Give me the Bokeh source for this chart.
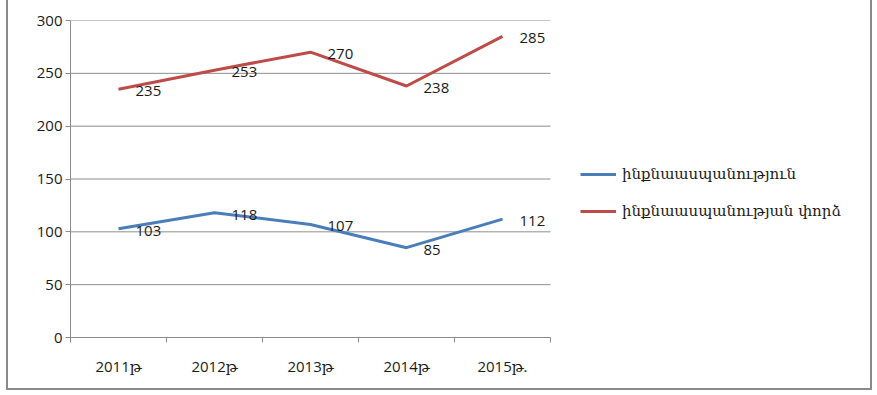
from bokeh.plotting import figure
from bokeh.models import (ColumnDataSource, FixedTicker, Range1d, LabelSet, Legend, LegendItem)
from bokeh.core.properties import value
from bokeh.embed import file_html
from bokeh.resources import INLINE

years = ["2011թ", "2012թ", "2013թ", "2014թ", "2015թ."]
suicide = [103, 118, 107, 85, 112]
attempt = [235, 253, 270, 238, 285]
series_names = ["ինքնաասպանություն", "ինքնաասպանության փորձ"]
y_ticks = [0, 50, 100, 150, 200, 250, 300]

n = len(years)
xpos = [i + 0.5 for i in range(n)]

# layout in px
W, H = 866, 390
left, top, bottom = 62, 20, 53
data_px = 480
frame_w = W - left
x_end = n * frame_w / data_px

src = ColumnDataSource(dict(x=xpos, s=suicide, a=attempt,
                            sl=[str(v) for v in suicide], al=[str(v) for v in attempt]))

p = figure(width=W, height=H, output_backend="svg", toolbar_location=None,
           x_range=Range1d(0, x_end), y_range=Range1d(0, 300),
           min_border_left=left, min_border_right=0, min_border_top=top, min_border_bottom=bottom)
p.styles = {"margin-left": "6px",
            "border-left": "2px solid #8a8a8a", "border-right": "2px solid #8a8a8a",
            "border-bottom": "2px solid #8a8a8a"}
p.outline_line_color = None
p.background_fill_color = "white"
p.border_fill_color = "white"

grid_col = "#8c8c8c"
p.xgrid.grid_line_color = None
p.ygrid.grid_line_color = None

# horizontal gridlines limited to the category area
p.segment(x0=[0] * (len(y_ticks) - 1), x1=[n] * (len(y_ticks) - 1),
          y0=y_ticks[1:], y1=y_ticks[1:], line_color=grid_col, line_width=1)

p.yaxis.ticker = FixedTicker(ticks=y_ticks)
p.yaxis.axis_line_color = grid_col
p.yaxis.major_tick_line_color = grid_col
p.yaxis.major_tick_out = 5
p.yaxis.major_tick_in = 0
p.yaxis.minor_tick_line_color = None
p.yaxis.major_label_standoff = 3
p.yaxis.major_label_text_font = "Open Sans"
p.yaxis.major_label_text_font_size = "15px"
p.yaxis.major_label_text_color = "#1a1a1a"

p.xaxis.bounds = (0, n)
p.xaxis.ticker = FixedTicker(ticks=xpos, minor_ticks=list(range(n + 1)))
p.xaxis.major_label_overrides = {x: y for x, y in zip(xpos, years)}
p.xaxis.axis_line_color = grid_col
p.xaxis.major_tick_line_color = None
p.xaxis.major_tick_out = 0
p.xaxis.minor_tick_line_color = grid_col
p.xaxis.minor_tick_out = 5
p.xaxis.minor_tick_in = 0
p.xaxis.major_label_standoff = 13
p.xaxis.major_label_text_font = "'Open Sans', 'DejaVu Serif'"
p.xaxis.major_label_text_font_size = "15px"
p.xaxis.major_label_text_color = "#1a1a1a"

blue = "#4a7ebb"
red = "#be4b48"
r1 = p.line("x", "s", source=src, line_color=blue, line_width=3)
r2 = p.line("x", "a", source=src, line_color=red, line_width=3)

for col in ["sl", "al"]:
    ycol = "s" if col == "sl" else "a"
    p.add_layout(LabelSet(x="x", y=ycol, text=col, source=src, x_offset=17, y_offset=-2,
                          text_align="left", text_baseline="middle",
                          text_font=value("Open Sans"), text_font_size=value("15px"),
                          text_color="#1a1a1a"))

legend = Legend(items=[LegendItem(label=series_names[0], renderers=[r1]),
                       LegendItem(label=series_names[1], renderers=[r2])],
                location=(data_px + 30, 116), padding=0, margin=0, spacing=17,
                glyph_width=36, glyph_height=20, label_standoff=6,
                label_text_font="DejaVu Serif", label_text_font_size="15px",
                label_text_color="#1a1a1a", border_line_color=None,
                background_fill_alpha=0)
p.add_layout(legend, "center")

open("out.html", "w").write(file_html(p, INLINE))
